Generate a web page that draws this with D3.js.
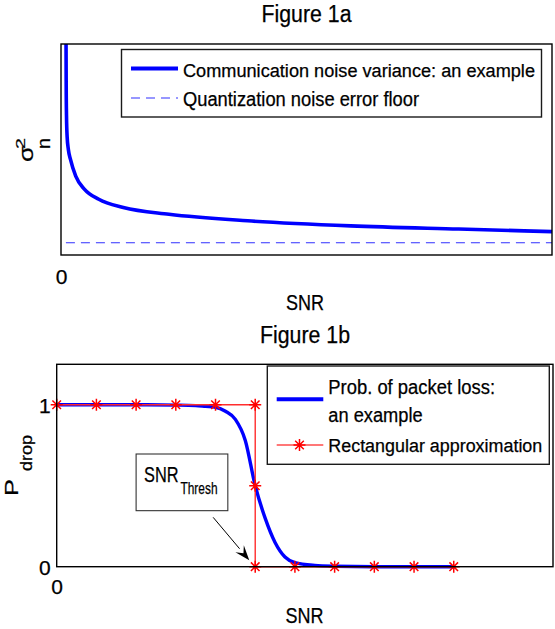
<!DOCTYPE html>
<html><head><meta charset="utf-8">
<script src="https://cdn.jsdelivr.net/npm/d3@7"></script>
<style>
html,body{margin:0;padding:0;background:#fff;}
text{font-family:"Liberation Sans",Arial,Helvetica,sans-serif;fill:#000;stroke:#000;stroke-width:0.25px;}
</style>
</head><body>
<svg id="c" width="555" height="629"></svg>
<script>
// ---------- Figure 1a data ----------
const snrA     = [1.0, 1.02, 1.06, 1.12, 1.25, 1.5, 1.93, 3.0, 4.8, 7.7, 12.7, 22, 38, 59, 81, 100];
const noiseVar = [13, 10.5, 8.0, 6.6, 5.6, 5.0, 4.53, 3.74, 3.11, 2.64, 2.25, 1.93, 1.62, 1.38, 1.23, 1.11];
const floorSnr = [1, 100];
const floorVal = [0.58, 0.58];
const xTicksA  = [0];
const legendA  = ["Communication noise variance: an example", "Quantization noise error floor"];

// ---------- Figure 1b data ----------
const snrB   = [0, 1, 2, 3, 3.5, 3.75, 4, 4.25, 4.5, 4.75, 5, 5.25, 5.5, 5.75, 6, 6.5, 7, 8, 9, 10];
const pDrop  = [1, 1, 1, 0.998, 0.995, 0.99, 0.985, 0.96, 0.91, 0.78, 0.5, 0.3, 0.15, 0.06, 0.025, 0.008, 0.003, 0, 0, 0];
const rectSnr = [0, 1, 2, 3, 4, 5, 5, 5, 6, 7, 8, 9, 10];
const rectVal = [1, 1, 1, 1, 1, 1, 0.5, 0, 0, 0, 0, 0, 0];
const xTicksB = [0];
const yTicksB = [0, 1];
const legendB = [["Prob. of packet loss:", "an example"], ["Rectangular approximation"]];
// annotation: text box corners and arrow (data coords)
const annBoxSnr = [2.0, 4.31];
const annBoxVal = [0.696, 0.346];
const arrowSnr  = [3.94, 4.85];
const arrowVal  = [0.305, 0.04];

const svg = d3.select("#c");
svg.append("rect").attr("width",555).attr("height",629).attr("fill","#fff");

function txt(g, s, x, y, size, len, anchor){
  const t = g.append("text").attr("x",x).attr("y",y).attr("font-size",size).text(s);
  if (anchor) t.attr("text-anchor",anchor);
  if (len) t.attr("textLength",len).attr("lengthAdjust","spacingAndGlyphs");
  return t;
}
// rotated text: baseline at screen x = bx, starts at screen y = by and reads upward
function rtxt(g, s, bx, by, size, len, sx){
  const w = g.append("g").attr("transform",`translate(${bx},${by})`);
  const w2 = w.append("g").attr("transform",`scale(${sx},1)`);
  const w3 = w2.append("g").attr("transform","rotate(-90)");
  w3.append("text").attr("x",0).attr("y",0)
    .attr("font-size",size)
    .attr("textLength",len).attr("lengthAdjust","spacingAndGlyphs")
    .text(s);
}

// ================= FIGURE 1a =================
const A = {l:61, t:44, r:552, b:255};
const xA = d3.scaleLinear().domain([0,100]).range([A.l, A.r]);
const yA = d3.scaleLinear().domain([0,10]).range([A.b, A.t]);

const gA = svg.append("g");
svg.append("clipPath").attr("id","clipA").append("rect")
  .attr("x",A.l).attr("y",A.t).attr("width",A.r-A.l+2).attr("height",A.b-A.t);

txt(gA,"Figure 1a",306.5,22,23,90,"middle");

// dashed floor
gA.append("path")
  .datum(floorSnr.map((s,i)=>[s,floorVal[i]]))
  .attr("d", d3.line().x(d=>xA(d[0])).y(d=>yA(d[1])))
  .attr("fill","none").attr("stroke","#3030ff").attr("stroke-width",1.2)
  .attr("stroke-dasharray","9,6");

// noise variance curve
gA.append("path")
  .datum(snrA.map((s,i)=>[s,noiseVar[i]]))
  .attr("clip-path","url(#clipA)")
  .attr("d", d3.line().curve(d3.curveMonotoneX).x(d=>xA(d[0])).y(d=>yA(d[1])))
  .attr("fill","none").attr("stroke","#0000ff").attr("stroke-width",3.6)
  .attr("stroke-linejoin","round");

// box
gA.append("rect").attr("x",A.l).attr("y",A.t).attr("width",A.r-A.l).attr("height",A.b-A.t)
  .attr("fill","none").attr("stroke","#000").attr("stroke-width",1.4);

// x axis tick label
const axA = gA.append("g").attr("transform",`translate(0,${A.b})`)
  .call(d3.axisBottom(xA).tickValues(xTicksA).tickSize(0).tickPadding(14).tickFormat(d3.format("d")));
axA.select(".domain").remove();
axA.attr("font-size",21).attr("font-family",null);
axA.selectAll("text").attr("fill","#000");

txt(gA,"SNR",305,310,22,38,"middle");

// y label sigma_n^2
rtxt(gA,"\u03c3",33,162,24,16,0.88);
rtxt(gA,"2",24.5,149,16,11,0.75);
rtxt(gA,"n",50,149,19,11,0.92);

// legend
const lgA = gA.append("g");
lgA.append("rect").attr("x",121.5).attr("y",49.5).attr("width",420).attr("height",67.5)
  .attr("fill","#fff").attr("stroke","#1a1a1a").attr("stroke-width",1.4);
lgA.append("line").attr("x1",131).attr("x2",178).attr("y1",68.5).attr("y2",68.5)
  .attr("stroke","#0000ff").attr("stroke-width",4);
lgA.append("line").attr("x1",131).attr("x2",178).attr("y1",98).attr("y2",98)
  .attr("stroke","#3030ff").attr("stroke-width",1.2).attr("stroke-dasharray","9,6");
txt(lgA,legendA[0],183,76.5,18.8,352);
txt(lgA,legendA[1],183,106,19.5,236);

// ================= FIGURE 1b =================
const B = {l:56.7, t:364.3, r:553, b:566.7};
const xB = d3.scaleLinear().domain([0,12.5]).range([B.l, B.r]);
const yB = d3.scaleLinear().domain([0,1.25]).range([B.b, B.t]);
const gB = svg.append("g");

txt(gB,"Figure 1b",305,343,23,90,"middle");

// blue probability curve
gB.append("path")
  .datum(snrB.map((s,i)=>[s,pDrop[i]]))
  .attr("d", d3.line().curve(d3.curveMonotoneX).x(d=>xB(d[0])).y(d=>yB(d[1])))
  .attr("fill","none").attr("stroke","#0000ff").attr("stroke-width",3.4);

// red rectangular approximation
const rectPts = rectSnr.map((s,i)=>[s,rectVal[i]]);
gB.append("path").datum(rectPts)
  .attr("d", d3.line().x(d=>xB(d[0])).y(d=>yB(d[1])))
  .attr("fill","none").attr("stroke","#ff2d2d").attr("stroke-width",1.4);

function star(g, cx, cy){
  const a = 6, d = 4.3;
  const p = `M${cx-a},${cy}H${cx+a}M${cx},${cy-a}V${cy+a}M${cx-d},${cy-d}L${cx+d},${cy+d}M${cx-d},${cy+d}L${cx+d},${cy-d}`;
  g.append("path").attr("d",p).attr("stroke","#ff0000").attr("stroke-width",1.5).attr("fill","none");
}
rectPts.forEach(d=>star(gB, xB(d[0]), yB(d[1])));

// box
gB.append("rect").attr("x",B.l).attr("y",B.t).attr("width",B.r-B.l).attr("height",B.b-B.t)
  .attr("fill","none").attr("stroke","#000").attr("stroke-width",1.4);

// axes labels
const axBx = gB.append("g").attr("transform",`translate(0,${B.b})`)
  .call(d3.axisBottom(xB).tickValues(xTicksB).tickSize(0).tickPadding(12.5).tickFormat(d3.format("d")));
axBx.select(".domain").remove();
axBx.attr("font-size",21).attr("font-family",null);
axBx.selectAll("text").attr("fill","#000");

const axBy = gB.append("g").attr("transform",`translate(${B.l},0)`)
  .call(d3.axisLeft(yB).tickValues(yTicksB).tickSize(0).tickPadding(6).tickFormat(d3.format("d")));
axBy.select(".domain").remove();
axBy.attr("font-size",21).attr("font-family",null);
axBy.selectAll("text").attr("fill","#000").attr("dy","0.38em");

txt(gB,"SNR",304.6,623,22,38,"middle");

// y label P_drop
rtxt(gB,"P",17.5,496,22,17,0.8);
rtxt(gB,"drop",31.5,471,17,36,0.92);

// annotation box
const bx0 = xB(annBoxSnr[0]), bx1 = xB(annBoxSnr[1]);
const by0 = yB(annBoxVal[0]), by1 = yB(annBoxVal[1]);
gB.append("rect").attr("x",bx0).attr("y",by0).attr("width",bx1-bx0).attr("height",by1-by0)
  .attr("fill","#fff").attr("stroke","#333").attr("stroke-width",1.1);
txt(gB,"SNR",bx0+8,by0+27.5,22,34.5);
txt(gB,"Thresh",bx0+44.4,by0+39.5,16.5,37);

// arrow
const ax0 = xB(arrowSnr[0]), ay0 = yB(arrowVal[0]);
const ax1 = xB(arrowSnr[1]), ay1 = yB(arrowVal[1]);
const ang = Math.atan2(ay1-ay0, ax1-ax0);
const hl = 15, hw = 5.5;
const bxm = ax1 - hl*Math.cos(ang), bym = ay1 - hl*Math.sin(ang);
gB.append("line").attr("x1",ax0).attr("y1",ay0).attr("x2",bxm).attr("y2",bym)
  .attr("stroke","#000").attr("stroke-width",1);
gB.append("path")
  .attr("d",`M${ax1},${ay1}L${bxm - hw*Math.sin(ang)},${bym + hw*Math.cos(ang)}L${ax1 - 0.6*hl*Math.cos(ang)},${ay1 - 0.6*hl*Math.sin(ang)}L${bxm + hw*Math.sin(ang)},${bym - hw*Math.cos(ang)}Z`)
  .attr("fill","#000");

// legend
const lgB = gB.append("g");
lgB.append("rect").attr("x",267.3).attr("y",366).attr("width",282).attr("height",98.3)
  .attr("fill","#fff").attr("stroke","#1a1a1a").attr("stroke-width",1.4);
lgB.append("line").attr("x1",276.7).attr("x2",323.3).attr("y1",399.3).attr("y2",399.3)
  .attr("stroke","#0000ff").attr("stroke-width",4);
lgB.append("line").attr("x1",276.7).attr("x2",323.3).attr("y1",445).attr("y2",445)
  .attr("stroke","#ff4a4a").attr("stroke-width",1.4);
star(lgB,299.5,445);
txt(lgB,legendB[0][0],328.3,393.5,20,166.7);
txt(lgB,legendB[0][1],328.3,422,20,94.4);
txt(lgB,legendB[1][0],328.3,452,18.8,214);
</script>
</body></html>
